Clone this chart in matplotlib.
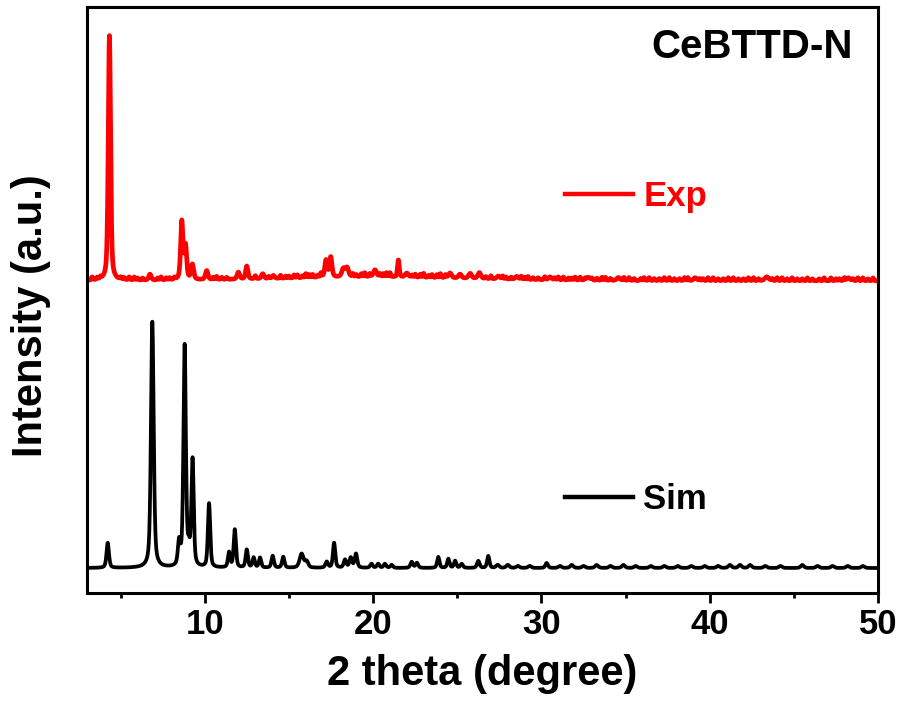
import numpy as np
import matplotlib
matplotlib.use('Agg')
from matplotlib import pyplot as plt
from matplotlib.lines import Line2D

plt.rcParams['font.family'] = ['Liberation Sans', 'DejaVu Sans']
plt.rcParams['font.weight'] = 'bold'

# peak lists: position (deg), height, FWHM (deg)
# intensities are in arbitrary units, Exp pattern is offset above Sim
sim_pos = [4.23, 6.88, 8.47, 8.80, 9.05, 9.27, 10.25, 11.44, 11.78, 12.49, 12.90, 13.28,
           14.03, 14.66, 15.75, 16.05, 17.24, 17.68, 18.33, 18.67, 18.98, 19.9, 20.3, 20.7,
           21.1, 22.29, 22.6, 23.87, 24.47, 24.87, 25.26, 26.25, 26.84, 27.4, 28.0,
           28.6, 29.3, 30.31, 31.1, 31.8, 32.5, 33.28, 34.1, 34.87, 35.6, 36.5, 37.3,
           38.1, 38.9, 39.7, 40.5, 41.2, 41.8, 42.4, 43.3, 44.2, 45.5, 46.4, 47.3, 48.2, 49.1]
sim_height = [25, 246, 23, 221, 14, 106, 64, 15, 38, 18, 10, 10,
              12, 11, 14, 6, 6, 25, 8, 10, 14, 4, 4, 4,
              3, 6, 5, 11, 9, 7, 4, 7, 12, 3, 3,
              2, 2, 5, 2, 3, 2, 3, 2, 3, 2, 2, 2,
              2, 2, 2, 2, 3, 3, 3, 2, 2, 3, 2, 2, 2, 2]
sim_width = [0.17, 0.19, 0.17, 0.17, 0.15, 0.16, 0.16, 0.16, 0.16, 0.16, 0.16, 0.16,
             0.17, 0.17, 0.28, 0.22, 0.18, 0.16, 0.18, 0.18, 0.18, 0.18, 0.18, 0.18,
             0.18, 0.18, 0.18, 0.16, 0.16, 0.16, 0.18, 0.18, 0.16, 0.22, 0.22,
             0.22, 0.22, 0.18, 0.22, 0.22, 0.22, 0.22, 0.22, 0.22, 0.22, 0.22, 0.22,
             0.22, 0.22, 0.22, 0.22, 0.22, 0.22, 0.22, 0.22, 0.22, 0.22, 0.22, 0.22, 0.22, 0.22]
sim_base = 25

exp_pos = [4.33, 6.74, 8.63, 8.85, 9.26, 10.11, 11.99, 12.49, 13.44, 14.07,
           17.20, 17.48, 18.23, 18.45, 20.11, 21.50, 22.0, 24.57, 25.16, 25.76,
           26.31, 27.44, 28.53, 30.51, 32.79, 34.57, 39.13, 43.39, 48.24, 20.0]
exp_height = [245, 6, 58, 33, 15, 9, 7, 13, 5, 3,
              17, 20, 8, 9, 7, 17, 4, 5, 4, 5,
              6, 3, 3, 3, 3, 3, 3, 4, 3, 4]
exp_width = [0.16, 0.18, 0.16, 0.16, 0.18, 0.18, 0.18, 0.16, 0.18, 0.18,
             0.17, 0.17, 0.22, 0.22, 0.22, 0.12, 0.22, 0.22, 0.22, 0.22,
             0.22, 0.22, 0.22, 0.22, 0.22, 0.22, 0.22, 0.28, 0.22, 14.0]
# small bumps along the noisy experimental baseline
exp_noise_pos = [3.3, 3.6, 3.8, 5.0, 5.2, 5.5, 5.8, 6.0, 6.3, 7.2, 7.4, 7.7, 7.9, 8.2,
                 10.5, 10.7, 11.0, 11.3, 13.0, 13.8, 14.5, 14.8, 15.0, 15.3,
                 15.5, 15.8, 16.0, 16.2, 16.4, 16.7, 16.9, 18.8, 19.0, 19.3, 19.5, 19.8,
                 20.4, 20.6, 20.8, 21.0, 22.3, 22.5, 22.8, 23.0, 23.3, 23.5, 23.8, 24.0,
                 24.3, 26.7, 27.0, 27.7, 27.9, 28.2, 28.8, 29.0, 29.2, 29.5, 29.8,
                 30.2, 30.8, 31.0, 31.3, 31.6, 31.8, 32.0, 32.3, 32.6, 33.0, 33.3,
                 33.6, 33.8, 34.1, 34.9, 35.2, 35.5, 35.9, 36.1, 36.4, 36.7, 37.0,
                 37.3, 37.6, 37.9, 38.2, 38.5, 38.7, 39.4, 39.6, 39.9, 40.2, 40.5,
                 40.8, 41.1, 41.4, 41.7, 42.0, 42.3, 42.6, 42.9, 43.7, 44.0, 44.3,
                 44.6, 44.9, 45.2, 45.5, 45.8, 46.1, 46.5, 46.8, 47.2, 47.5, 47.7,
                 48.0, 48.5, 48.8, 49.1, 49.4, 49.7]
exp_noise_height = [3, 2, 2, 2, 2, 3, 3, 2, 2, 2, 3, 2, 2, 2,
                    2, 3, 2, 2, 3, 2, 3, 2, 2, 3,
                    3, 2, 4, 3, 3, 2, 4, 3, 2, 3, 4, 3,
                    3, 3, 4, 4, 2, 3, 3, 4, 2, 3, 3, 4,
                    3, 2, 3, 3, 2, 2, 3, 2, 3, 2, 2,
                    3, 2, 3, 3, 2, 2, 3, 3, 2, 2, 2,
                    3, 3, 2, 3, 3, 2, 2, 3, 3, 2, 2,
                    3, 3, 2, 2, 3, 3, 2, 2, 3, 3, 2,
                    2, 3, 3, 2, 2, 3, 3, 2, 2, 3, 3,
                    2, 3, 2, 2, 3, 2, 2, 3, 3, 2, 2,
                    3, 2, 3, 3, 2, 3]
exp_base = 312

tick_major = [10, 20, 30, 40, 50]


def profile(x, pos, height, width):
    y = np.zeros_like(x)
    for c, h, w in zip(pos, height, width):
        u = (x - c) / (w / 2)
        # pseudo-Voigt, half Lorentz half Gauss
        y += h * (0.5 / (1 + u**2) + 0.5 * np.exp(-np.log(2) * u**2))
    return y


x = np.linspace(3, 50, 4701)
sim = sim_base + profile(x, sim_pos, sim_height, sim_width)
exp = exp_base + profile(x, exp_pos, exp_height, exp_width) \
    + profile(x, exp_noise_pos, exp_noise_height, [0.1] * len(exp_noise_pos))

fig = plt.figure(figsize=(9.01, 7.07), dpi=100)
ax = fig.add_axes([0.0966, 0.1612, 0.8779, 0.8288])

ax.plot(x, exp, color='#ff0000', lw=3.4)
ax.plot(x, sim, color='black', lw=2.7)

ax.set_xlim(3, 50)
ax.set_ylim(0, 586)
ax.set_xticks(tick_major)
ax.set_xticks([5, 15, 25, 35, 45], minor=True)
ax.set_yticks([])
ax.tick_params(axis='x', which='major', direction='out', length=7, width=2,
               labelsize=25, pad=4)
ax.tick_params(axis='x', which='minor', direction='out', length=3.5, width=2)
for s in ax.spines.values():
    s.set_linewidth(2.2)

ax.set_xlabel('2 theta (degree)', fontsize=30, fontweight='bold', labelpad=9)
ax.set_ylabel('Intensity (a.u.)', fontsize=30, fontweight='bold')
ax.yaxis.set_label_coords(-0.045, 0.474)

ax.text(0.968, 0.932, 'CeBTTD-N', transform=ax.transAxes, ha='right', va='center',
        fontsize=29, fontweight='bold')

leg1 = ax.legend([Line2D([], [], color='#ff0000', lw=3.2)], ['Exp'],
                 loc='center left', bbox_to_anchor=(0.604, 0.676), frameon=False,
                 borderpad=0, borderaxespad=0, handlelength=1.96, handletextpad=0.3,
                 prop={'size': 25, 'weight': 'bold'})
for t in leg1.get_texts():
    t.set_color('#ff0000')
ax.add_artist(leg1)
ax.legend([Line2D([], [], color='black', lw=3.2)], ['Sim'],
          loc='center left', bbox_to_anchor=(0.604, 0.160), frameon=False,
          borderpad=0, borderaxespad=0, handlelength=1.96, handletextpad=0.3,
          prop={'size': 25, 'weight': 'bold'})

fig.savefig('out.png', dpi=100)
